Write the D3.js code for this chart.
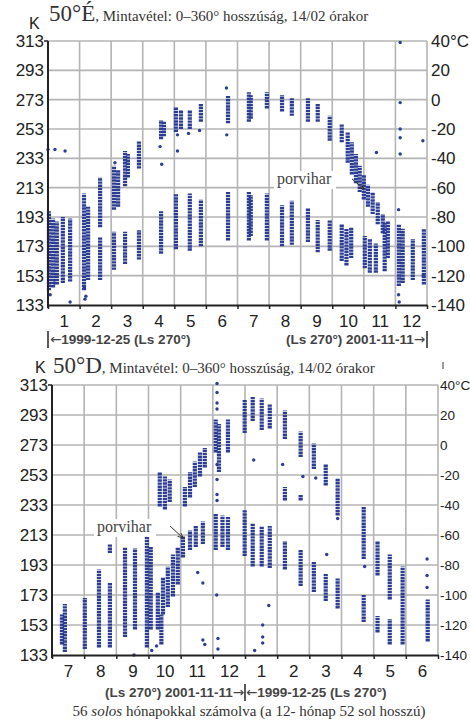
<!DOCTYPE html>
<html>
<head>
<meta charset="utf-8">
<script src="https://cdn.jsdelivr.net/npm/d3@7"></script>
<style>
  body { margin: 0; background: #fff; }
  svg { display: block; }
</style>
</head>
<body>
<svg id="chart"></svg>
<script>
// month labels along the two x axes
var topMonths = [1, 2, 3, 4, 5, 6, 7, 8, 9, 10, 11, 12];
var botMonths = [7, 8, 9, 10, 11, 12, 1, 2, 3, 4, 5, 6];
var kelvinTicks = [133, 153, 173, 193, 213, 233, 253, 273, 293, 313];
var celsiusTicks = [-140, -120, -100, -80, -60, -40, -20, 0, 20, 40];

// dense vertical runs of samples: [month position, low K, high K]
var topStrips = [
  [0.03, 143, 197], [0.16, 145, 192], [0.28, 147, 190], [0.47, 148, 193], [0.70, 149, 192],
  [1.14, 143, 209], [1.27, 150, 200], [1.65, 186, 220], [1.65, 150, 179],
  [2.09, 198, 228], [2.09, 157, 183], [2.22, 200, 225], [2.44, 214, 238], [2.44, 161, 183],
  [2.53, 220, 236], [2.88, 226, 245], [2.88, 164, 184],
  [3.58, 246, 259], [3.58, 168, 197], [3.67, 248, 258],
  [4.05, 251, 268], [4.05, 171, 209], [4.21, 253, 266], [4.49, 253, 266], [4.49, 170, 209],
  [4.84, 258, 270], [4.84, 173, 205],
  [5.70, 257, 276], [5.70, 177, 210],
  [6.36, 258, 278], [6.36, 177, 210], [6.42, 260, 276], [6.42, 180, 208], [6.93, 267, 278], [6.93, 177, 209],
  [7.41, 265, 276], [7.41, 173, 201], [7.72, 262, 274], [7.72, 174, 204],
  [8.23, 258, 274], [8.23, 176, 199], [8.54, 258, 270], [8.54, 169, 191], [8.92, 245, 262], [8.92, 170, 191],
  [9.30, 244, 256], [9.30, 163, 188], [9.45, 160, 185], [9.60, 165, 186],
  [9.49, 230, 251], [9.62, 222, 244], [9.75, 216, 236], [9.87, 210, 228], [10.0, 205, 222],
  [10.13, 200, 215], [10.28, 195, 210], [10.44, 188, 203], [10.60, 182, 195], [10.76, 165, 190],
  [10.03, 158, 180], [10.19, 155, 178], [10.38, 155, 175], [10.66, 156, 189],
  [11.11, 146, 188], [11.23, 148, 185], [11.55, 150, 178], [11.90, 147, 185]
];
// isolated samples: [month position, K]
var topPoints = [
  [0.0, 239], [0.22, 239], [0.54, 238], [2.12, 230], [3.55, 241], [3.60, 229],
  [4.10, 249], [4.10, 238], [4.45, 250], [4.80, 252], [5.65, 281], [5.66, 249],
  [11.15, 312], [11.15, 271], [11.15, 253], [11.15, 247], [11.15, 236], [10.40, 237], [11.87, 245],
  [0.07, 140], [0.20, 148], [0.70, 135], [1.17, 137], [1.20, 139], [11.10, 140], [11.12, 135],
  [11.88, 153], [11.10, 198], [1.15, 145]
];

var botStrips = [
  [0.31, 140, 160], [0.40, 135, 167],
  [1.02, 137, 171], [1.46, 138, 190], [1.80, 138, 181], [1.80, 201, 207],
  [2.27, 145, 205], [2.58, 150, 204], [2.95, 138, 212], [3.07, 150, 205],
  [3.35, 232, 255], [3.51, 230, 252], [3.66, 235, 250],
  [3.29, 150, 175], [3.45, 160, 185], [3.60, 165, 192], [3.76, 172, 200], [3.91, 180, 205], [3.40, 140, 160],
  [4.07, 198, 212], [4.29, 203, 216], [4.47, 205, 219], [4.69, 207, 222],
  [4.13, 232, 245], [4.29, 238, 255], [4.44, 245, 262], [4.60, 252, 268], [4.75, 258, 271],
  [5.09, 268, 290], [5.09, 203, 227], [5.19, 255, 287], [5.47, 268, 290], [5.47, 203, 225], [5.30, 205, 226],
  [5.99, 281, 303], [5.99, 199, 230], [6.24, 289, 305], [6.24, 192, 221],
  [6.52, 283, 304], [6.52, 192, 219], [6.77, 284, 300], [6.77, 191, 219],
  [7.24, 277, 296], [7.24, 236, 245], [7.24, 190, 209], [7.73, 265, 282], [7.73, 236, 240], [7.73, 179, 203],
  [8.14, 257, 274], [8.14, 175, 195], [8.51, 246, 260], [8.51, 169, 187], [8.88, 226, 251], [8.88, 164, 184],
  [9.69, 197, 232], [9.69, 155, 173],
  [10.12, 186, 209], [10.12, 148, 159], [10.50, 170, 200], [10.50, 140, 157], [10.90, 140, 192],
  [11.68, 142, 170]
];
var botPoints = [
  [5.13, 314], [5.13, 308], [5.13, 301], [5.13, 297], [5.13, 260], [5.13, 250], [5.13, 240],
  [5.13, 236], [5.12, 173], [5.16, 144], [5.16, 137],
  [6.27, 263], [7.17, 260], [7.80, 252], [8.20, 251], [6.74, 166], [6.55, 153], [6.55, 145],
  [6.55, 141], [8.54, 200], [8.88, 224], [11.66, 197], [11.66, 186], [11.66, 178], [9.72, 192],
  [4.53, 188], [4.69, 181], [4.69, 143], [6.30, 136], [4.75, 140], [2.55, 133], [3.10, 136], [3.25, 139]
];

var dotColor = "#2c3d96";
var gridColor = "#b4b4b4";
var axisFont = "'Liberation Sans', Arial, sans-serif";
var serifFont = "'Liberation Serif', 'DejaVu Serif', serif";

var svg = d3.select("#chart")
    .attr("width", 470)
    .attr("height", 720);

svg.append("rect").attr("width", 470).attr("height", 720).attr("fill", "#fff");

function drawPanel(p) {
    var x = d3.scaleLinear().domain([0, 12]).range([p.left, p.right]);
    var y = d3.scaleLinear().domain([133, 313]).range([p.bottom, p.top]);
    var yC = d3.scaleLinear().domain([-140, 40]).range([p.bottom, p.top]);
    var g = svg.append("g");

    // grid
    g.append("g").selectAll("line")
        .data(kelvinTicks.slice(1))
        .join("line")
        .attr("x1", p.left).attr("x2", p.right)
        .attr("y1", d => y(d)).attr("y2", d => y(d))
        .attr("stroke", gridColor).attr("stroke-width", 1.6);
    g.append("g").selectAll("line")
        .data(d3.range(1, 13))
        .join("line")
        .attr("x1", d => x(d)).attr("x2", d => x(d))
        .attr("y1", p.top).attr("y2", p.bottom)
        .attr("stroke", gridColor).attr("stroke-width", 1.6);

    // data
    g.append("g").selectAll("line")
        .data(p.strips)
        .join("line")
        .attr("x1", d => x(d[0])).attr("x2", d => x(d[0]))
        .attr("y1", d => y(d[1])).attr("y2", d => y(d[2]))
        .attr("stroke", dotColor)
        .attr("stroke-width", 4.2)
        .attr("stroke-dasharray", "2.4,0.7");
    g.append("g").selectAll("circle")
        .data(p.points)
        .join("circle")
        .attr("cx", d => x(d[0]))
        .attr("cy", d => y(d[1]))
        .attr("r", 1.7)
        .attr("fill", dotColor);

    // axes
    g.append("line")
        .attr("x1", p.left).attr("x2", p.left)
        .attr("y1", p.top).attr("y2", p.bottom + 3)
        .attr("stroke", "#222").attr("stroke-width", 2);
    g.append("line")
        .attr("x1", p.left - 4).attr("x2", p.left)
        .attr("y1", p.top).attr("y2", p.top)
        .attr("stroke", "#222").attr("stroke-width", 1.5);

    g.append("g")
        .attr("transform", "translate(0," + p.bottom + ")")
        .call(d3.axisBottom(x).tickValues(d3.range(0, 13)).tickFormat("").tickSize(4).tickSizeOuter(0))
        .call(a => a.select(".domain").attr("stroke", "#222").attr("stroke-width", 2))
        .call(a => a.selectAll(".tick line").attr("stroke", "#222").attr("stroke-width", 1.5));

    g.append("g")
        .attr("transform", "translate(0," + (p.bottom + 6) + ")")
        .call(d3.axisBottom(x).tickValues(d3.range(12).map(i => i + 0.5))
            .tickFormat((d, i) => p.months[i]).tickSize(0).tickPadding(4))
        .call(a => a.select(".domain").remove())
        .call(a => a.selectAll("text").attr("font-family", axisFont).attr("font-size", 17).attr("fill", "#222"));

    g.append("g")
        .attr("transform", "translate(" + (p.left - 2) + ",0)")
        .call(d3.axisLeft(y).tickValues(kelvinTicks).tickSize(0).tickPadding(2))
        .call(a => a.select(".domain").remove())
        .call(a => a.selectAll("text").attr("font-family", axisFont).attr("font-size", 17).attr("fill", "#222"));

    g.append("g")
        .attr("transform", "translate(" + (p.right + 1) + ",0)")
        .call(d3.axisRight(yC).tickValues(celsiusTicks).tickSize(0).tickPadding(p.rightPad)
            .tickFormat(d => d === 40 ? "40°C" : d))
        .call(a => a.select(".domain").remove())
        .call(a => a.selectAll("text").attr("font-family", axisFont).attr("font-size", p.rightSize).attr("fill", "#222"));

    g.append("text")
        .attr("x", p.kx).attr("y", p.top - 12)
        .attr("font-family", axisFont).attr("font-size", 16).attr("fill", "#222")
        .text("K");

    // title
    var t = g.append("text")
        .attr("x", p.left + 1).attr("y", p.titleY)
        .attr("font-family", serifFont).attr("fill", "#333");
    t.append("tspan").attr("font-size", 23).text(p.title);
    t.append("tspan").attr("font-size", 15).text(", Mintavétel: 0–360° hosszúság, 14/02 órakor");

    // dust storm note
    g.append("rect")
        .attr("x", p.note[0] - 3).attr("y", p.note[1] - 13)
        .attr("width", 62).attr("height", 18).attr("fill", "#fff");
    g.append("text")
        .attr("x", p.note[0]).attr("y", p.note[1])
        .attr("font-family", serifFont).attr("font-size", 16).attr("fill", "#444")
        .text("porvihar");
    g.append("line")
        .attr("x1", p.arrow[0]).attr("y1", p.arrow[1])
        .attr("x2", p.arrow[2]).attr("y2", p.arrow[3])
        .attr("stroke", "#333").attr("stroke-width", 1)
        .attr("marker-end", "url(#arr)");

    return {x: x, y: y, g: g};
}

svg.append("defs").append("marker")
    .attr("id", "arr")
    .attr("viewBox", "0 0 10 10")
    .attr("refX", 9).attr("refY", 5)
    .attr("markerWidth", 6).attr("markerHeight", 6)
    .attr("orient", "auto")
    .append("path")
    .attr("d", "M0,1 L10,5 L0,9")
    .attr("fill", "none").attr("stroke", "#333").attr("stroke-width", 1.5);

var top1 = drawPanel({
    left: 48, right: 427, top: 41, bottom: 305,
    months: topMonths, strips: topStrips, points: topPoints,
    title: "50°É", titleY: 21, kx: 29, rightPad: 3, rightSize: 17,
    note: [277, 184], arrow: [352, 179, 364, 189]
});

var bot1 = drawPanel({
    left: 52, right: 438, top: 385, bottom: 655,
    months: botMonths, strips: botStrips, points: botPoints,
    title: "50°D", titleY: 373, kx: 35, rightPad: 1, rightSize: 13.5,
    note: [97, 532], arrow: [170, 526, 183, 538]
});

// date notes under the axes, arrows taken from DejaVu for a long glyph
var noteFont = "'Liberation Sans', Arial, sans-serif";
function bar(xp, y0, y1) {
    svg.append("line")
        .attr("x1", xp).attr("x2", xp).attr("y1", y0).attr("y2", y1)
        .attr("stroke", "#333").attr("stroke-width", 1.6);
}
function note(xp, yp, anchor, parts) {
    var t = svg.append("text")
        .attr("x", xp).attr("y", yp)
        .attr("text-anchor", anchor)
        .attr("font-family", noteFont).attr("font-size", 13.5).attr("font-weight", "bold")
        .attr("fill", "#444");
    parts.forEach(function(s) {
        var sp = t.append("tspan").text(s);
        if (s === "←" || s === "→") sp.attr("font-family", "'DejaVu Sans', sans-serif").attr("font-weight", "normal");
    });
}
bar(48, 331, 348);
note(50, 344, "start", ["←", "1999-12-25 (Ls 270°)"]);
bar(427, 331, 348);
note(425, 344, "end", ["(Ls 270°) 2001-11-11", "→"]);

bar(bot1.x(6), 684, 701);
note(bot1.x(6) - 1, 697, "end", ["(Ls 270°) 2001-11-11", "→"]);
note(bot1.x(6) + 1, 697, "start", ["←", "1999-12-25  (Ls 270°)"]);

svg.append("line")
    .attr("x1", 443).attr("x2", 443).attr("y1", 362).attr("y2", 369)
    .attr("stroke", "#555").attr("stroke-width", 1.2);

var cap = svg.append("text")
    .attr("x", 249).attr("y", 716)
    .attr("text-anchor", "middle")
    .attr("font-family", serifFont).attr("font-size", 15).attr("fill", "#333");
cap.append("tspan").text("56 ");
cap.append("tspan").attr("font-style", "italic").text("solos");
cap.append("tspan").text(" hónapokkal számolva (a 12- hónap 52 sol hosszú)");
</script>
</body>
</html>
